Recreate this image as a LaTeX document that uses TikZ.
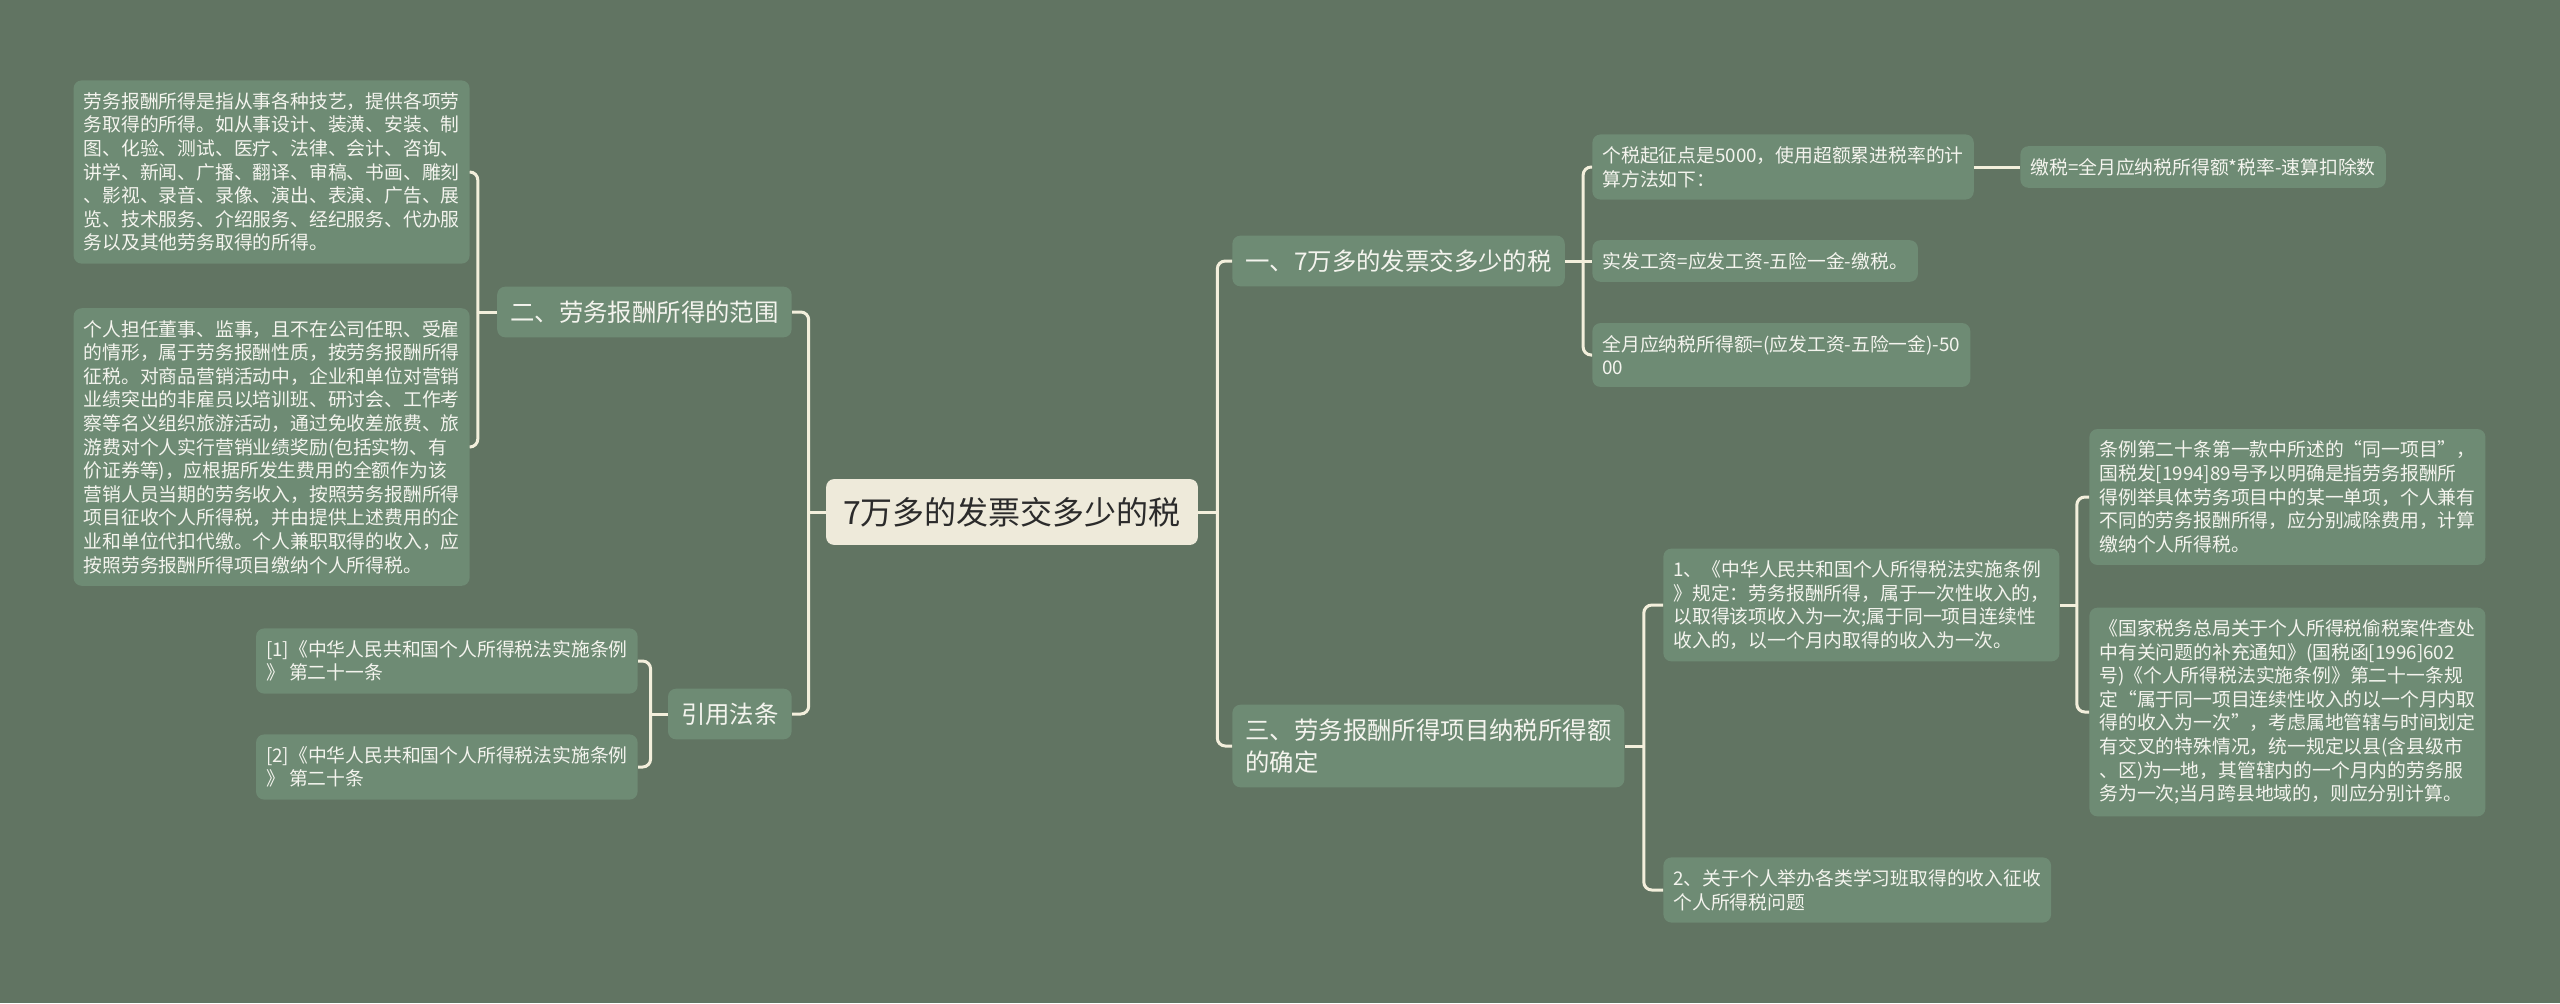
\documentclass[tikz,border=0pt]{standalone}
\usepackage{fontspec}
\setmainfont{Noto Sans CJK SC}
\definecolor{bgc}{HTML}{617462}
\definecolor{nodec}{HTML}{6E8B74}
\definecolor{rootc}{HTML}{EEEADA}
\definecolor{roottxt}{HTML}{2B2B2B}
\definecolor{linec}{HTML}{F3EFDC}
\definecolor{txtc}{HTML}{F4F4EE}
\newcommand\leafnode[4]{\node(#1)[leaf,anchor=#2] at (#3) {#4};}

\begin{document}
\begin{tikzpicture}[x=0.5pt,y=-0.5pt,
    box/.style={rounded corners=4pt,fill=nodec,text=txtc,align=left},
    leaf/.style={box,font=\fontsize{9.4}{11.8}\selectfont,inner xsep=5pt,inner ysep=6pt},
    mid/.style={box,font=\fontsize{12.2}{16}\selectfont,inner xsep=6.5pt,inner ysep=7pt},
    rootbox/.style={rounded corners=4pt,fill=rootc,text=roottxt,font=\fontsize{16}{20}\selectfont,inner xsep=8.5pt,inner ysep=9pt},
    link/.style={draw=linec,line width=1.5pt,rounded corners=4pt}]
    \fill[bgc] (0,0) rectangle (2560,1003);
    \useasboundingbox (0,0) rectangle (2560,1003);

    \node(root)[rootbox] at (1012,512) {7万多的发票交多少的税};

    \node(b1)[mid,anchor=west] at (1232,261) {一、7万多的发票交多少的税};
    \node(b3)[mid,anchor=west] at (1232,746) {三、劳务报酬所得项目纳税所得额\\的确定};
    \node(b2)[mid,anchor=east] at (792,312) {二、劳务报酬所得的范围};
    \node(b4)[mid,anchor=east] at (792,714) {引用法条};

    \leafnode{c1}{west}{1592,167}{个税起征点是5000，使用超额累进税率的计\\算方法如下：}
    \leafnode{g1}{west}{2020,167}{缴税=全月应纳税所得额*税率-速算扣除数}
    \leafnode{c2}{west}{1592,261}{实发工资=应发工资-五险一金-缴税。}
    \leafnode{c3}{west}{1592,355}{全月应纳税所得额=(应发工资-五险一金)-50\\00}

    \leafnode{d1}{west}{1663,605}{1、《中华人民共和国个人所得税法实施条例\\》规定：劳务报酬所得，属于一次性收入的，\\以取得该项收入为一次;属于同一项目连续性\\收入的，以一个月内取得的收入为一次。}
    \leafnode{d2}{west}{1663,890}{2、关于个人举办各类学习班取得的收入征收\\个人所得税问题}
    \leafnode{e1}{west}{2089,497}{条例第二十条第一款中所述的“同一项目”，\\国税发[1994]89号予以明确是指劳务报酬所\\得例举具体劳务项目中的某一单项，个人兼有\\不同的劳务报酬所得，应分别减除费用，计算\\缴纳个人所得税。}
    \leafnode{e2}{west}{2089,712}{《国家税务总局关于个人所得税偷税案件查处\\中有关问题的补充通知》(国税函[1996]602\\号)《个人所得税法实施条例》第二十一条规\\定“属于同一项目连续性收入的以一个月内取\\得的收入为一次”，考虑属地管辖与时间划定\\有交叉的特殊情况，统一规定以县(含县级市\\、区)为一地，其管辖内的一个月内的劳务服\\务为一次;当月跨县地域的，则应分别计算。}

    \leafnode{l1}{east}{470,172}{劳务报酬所得是指从事各种技艺，提供各项劳\\务取得的所得。如从事设计、装潢、安装、制\\图、化验、测试、医疗、法律、会计、咨询、\\讲学、新闻、广播、翻译、审稿、书画、雕刻\\、影视、录音、录像、演出、表演、广告、展\\览、技术服务、介绍服务、经纪服务、代办服\\务以及其他劳务取得的所得。}
    \leafnode{l2}{east}{470,447}{个人担任董事、监事，且不在公司任职、受雇\\的情形，属于劳务报酬性质，按劳务报酬所得\\征税。对商品营销活动中，企业和单位对营销\\业绩突出的非雇员以培训班、研讨会、工作考\\察等名义组织旅游活动，通过免收差旅费、旅\\游费对个人实行营销业绩奖励(包括实物、有\\价证券等)，应根据所发生费用的全额作为该\\营销人员当期的劳务收入，按照劳务报酬所得\\项目征收个人所得税，并由提供上述费用的企\\业和单位代扣代缴。个人兼职取得的收入，应\\按照劳务报酬所得项目缴纳个人所得税。}
    \leafnode{r1}{east}{638,661}{[1]《中华人民共和国个人所得税法实施条例\\》 第二十一条}
    \leafnode{r2}{east}{638,767}{[2]《中华人民共和国个人所得税法实施条例\\》 第二十条}

    \draw[link] (root.east) -- ++(19,0) coordinate (rj);
    \draw[link] (rj) |- (b1.west);
    \draw[link] (rj) |- (b3.west);
    \draw[link] (root.west) -- ++(-17,0) coordinate (lj);
    \draw[link] (lj) |- (b2.east);
    \draw[link] (lj) |- (b4.east);

    \draw[link] (b1.east) -- ++(18,0) coordinate (b1j);
    \draw[link] (b1j) |- (c1.west);
    \draw[link] (b1.east) -- (c2.west);
    \draw[link] (b1j) |- (c3.west);
    \draw[link] (c1.east) -- (g1.west);

    \draw[link] (b3.east) -- ++(19,0) coordinate (b3j);
    \draw[link] (b3j) |- (d1.west);
    \draw[link] (b3j) |- (d2.west);
    \draw[link] (d1.east) -- ++(17,0) coordinate (d1j);
    \draw[link] (d1j) |- (e1.west);
    \draw[link] (d1j) |- (e2.west);

    \draw[link] (b2.west) -- ++(-19,0) coordinate (b2j);
    \draw[link] (b2j) |- (l1.east);
    \draw[link] (b2j) |- (l2.east);
    \draw[link] (b4.west) -- ++(-17,0) coordinate (b4j);
    \draw[link] (b4j) |- (r1.east);
    \draw[link] (b4j) |- (r2.east);
\end{tikzpicture}
\end{document}
